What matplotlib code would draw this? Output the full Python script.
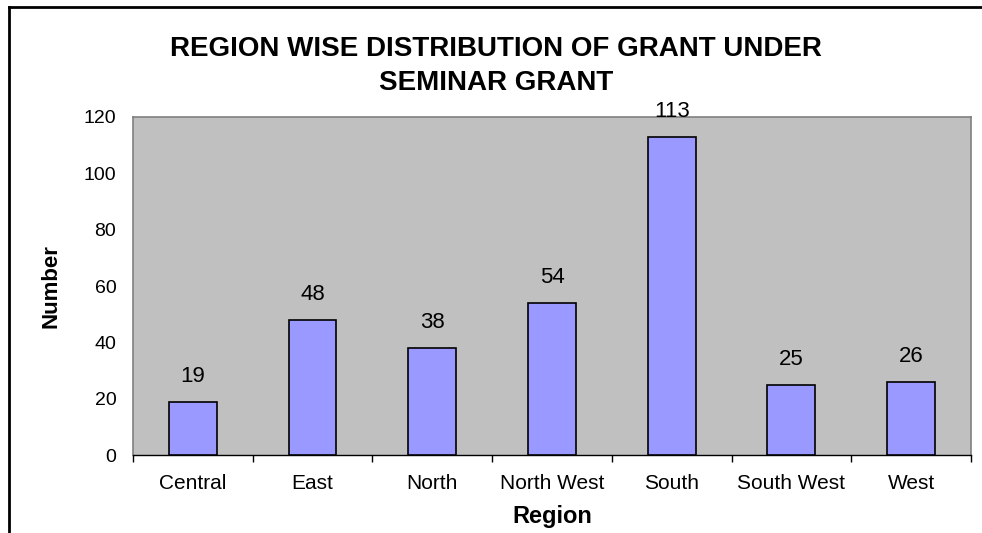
import matplotlib.pyplot as plt
import numpy as np
from matplotlib.lines import Line2D

# данные
regions = ['Central', 'East', 'North', 'North West', 'South', 'South West', 'West']
counts = [19, 48, 38, 54, 113, 25, 26]
y_ticks = [0, 20, 40, 60, 80, 100, 120]

plt.rcParams['font.family'] = ['Liberation Sans', 'DejaVu Sans']

fig = plt.figure(figsize=(9.82, 5.33), dpi=100)
ax = fig.add_axes([0.1354, 0.1463, 0.8534, 0.6342])
ax.set_facecolor('#C0C0C0')

x = np.arange(len(regions))
ax.bar(x, counts, width=0.4, color='#9999FF', edgecolor='black', linewidth=1.2, zorder=3)
# подписи значений над столбцами
for xi, v in zip(x, counts):
    ax.annotate(str(v), (xi, v), xytext=(0, 18), textcoords='offset points',
                ha='center', va='center', fontsize=16, zorder=4, annotation_clip=False)

ax.set_xlim(-0.5, len(regions) - 0.5)
ax.set_ylim(0, 120)
ax.set_yticks(y_ticks)
ax.set_xticks(x)
ax.set_xticklabels(regions, fontsize=15)
ax.set_xticks(np.arange(len(regions) + 1) - 0.5, minor=True)
ax.tick_params(axis='x', which='major', length=0, pad=14)
ax.tick_params(axis='x', which='minor', length=5, width=1, color='black')
ax.tick_params(axis='y', length=0, pad=12, labelsize=14)

for s in ['top', 'right', 'left']:
    ax.spines[s].set_color('#808080')
    ax.spines[s].set_linewidth(1.2)
ax.spines['bottom'].set_color('black')
ax.spines['bottom'].set_linewidth(1)

ax.set_ylabel('Number', fontsize=16, fontweight='bold', labelpad=16)
ax.set_xlabel('Region', fontsize=17, fontweight='bold', labelpad=8)

fig.text(0.505, 0.933, 'REGION WISE DISTRIBUTION OF GRANT UNDER\nSEMINAR GRANT',
         ha='center', va='top', fontsize=20, fontweight='bold', linespacing=1.4)

# рамка вокруг графика (левая и верхняя линии)
fig.add_artist(Line2D([8.5 / 982, 8.5 / 982], [0, 1 - 7 / 533], color='black', lw=2, transform=fig.transFigure))
fig.add_artist(Line2D([8.5 / 982, 1], [1 - 7 / 533, 1 - 7 / 533], color='black', lw=2, transform=fig.transFigure))

plt.savefig('out.png', dpi=100)
